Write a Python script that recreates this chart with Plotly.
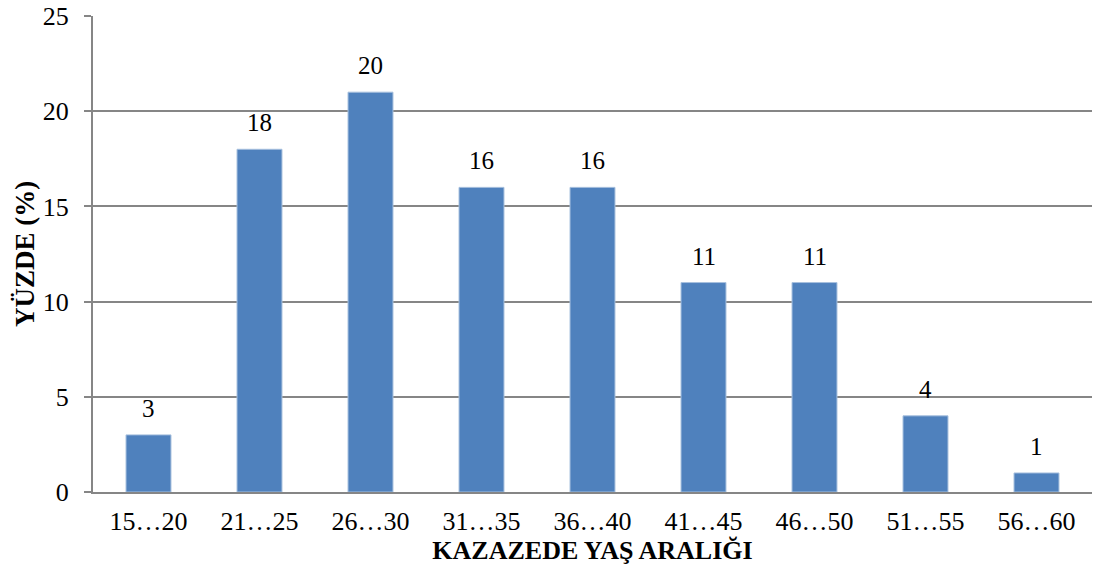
import plotly.graph_objects as go

categories = ['15…20', '21…25', '26…30', '31…35', '36…40', '41…45', '46…50', '51…55', '56…60']
bar_heights = [3, 18, 21, 16, 16, 11, 11, 4, 1]
bar_labels = ['3', '18', '20', '16', '16', '11', '11', '4', '1']

FONT = 'Liberation Serif, Times New Roman, serif'

fig = go.Figure()

fig.add_trace(go.Bar(
    x=categories,
    y=bar_heights,
    width=0.405,
    marker=dict(color='#4F81BD', line=dict(color='#A7C0DE', width=1)),
))

# value labels sit a little above each bar
for cat, h, lab in zip(categories, bar_heights, bar_labels):
    fig.add_annotation(
        x=cat, y=h, text=lab, showarrow=False,
        yanchor='bottom', yshift=11,
        font=dict(family=FONT, size=25, color='black'),
    )

fig.update_layout(
    width=1094,
    height=566,
    margin=dict(l=93, r=2, t=16, b=74),
    plot_bgcolor='white',
    paper_bgcolor='white',
    showlegend=False,
    font=dict(family=FONT, size=25, color='black'),
    xaxis=dict(
        title=dict(text='<b>KAZAZEDE YAŞ ARALIĞI</b>', font=dict(size=26), standoff=2),
        automargin=False,
        showline=True,
        linecolor='#868686',
        linewidth=2,
        ticks='',
        ticklabelstandoff=5,
        tickfont=dict(size=26),
    ),
    yaxis=dict(
        title=dict(text='<b>YÜZDE (%)</b>', font=dict(size=27), standoff=0),
        automargin=False,
        range=[0, 25],
        dtick=5,
        showline=True,
        linecolor='#868686',
        linewidth=2,
        gridcolor='#868686',
        gridwidth=1.5,
        ticks='outside',
        ticklen=7,
        tickcolor='#868686',
        tickwidth=2,
        ticklabelstandoff=10,
        tickfont=dict(size=26),
        zeroline=False,
    ),
)

# drop the default 8px body margin so the figure fills the window
fig.write_html('out.html', config={'displayModeBar': False},
               post_script="document.body.style.margin='0';")
